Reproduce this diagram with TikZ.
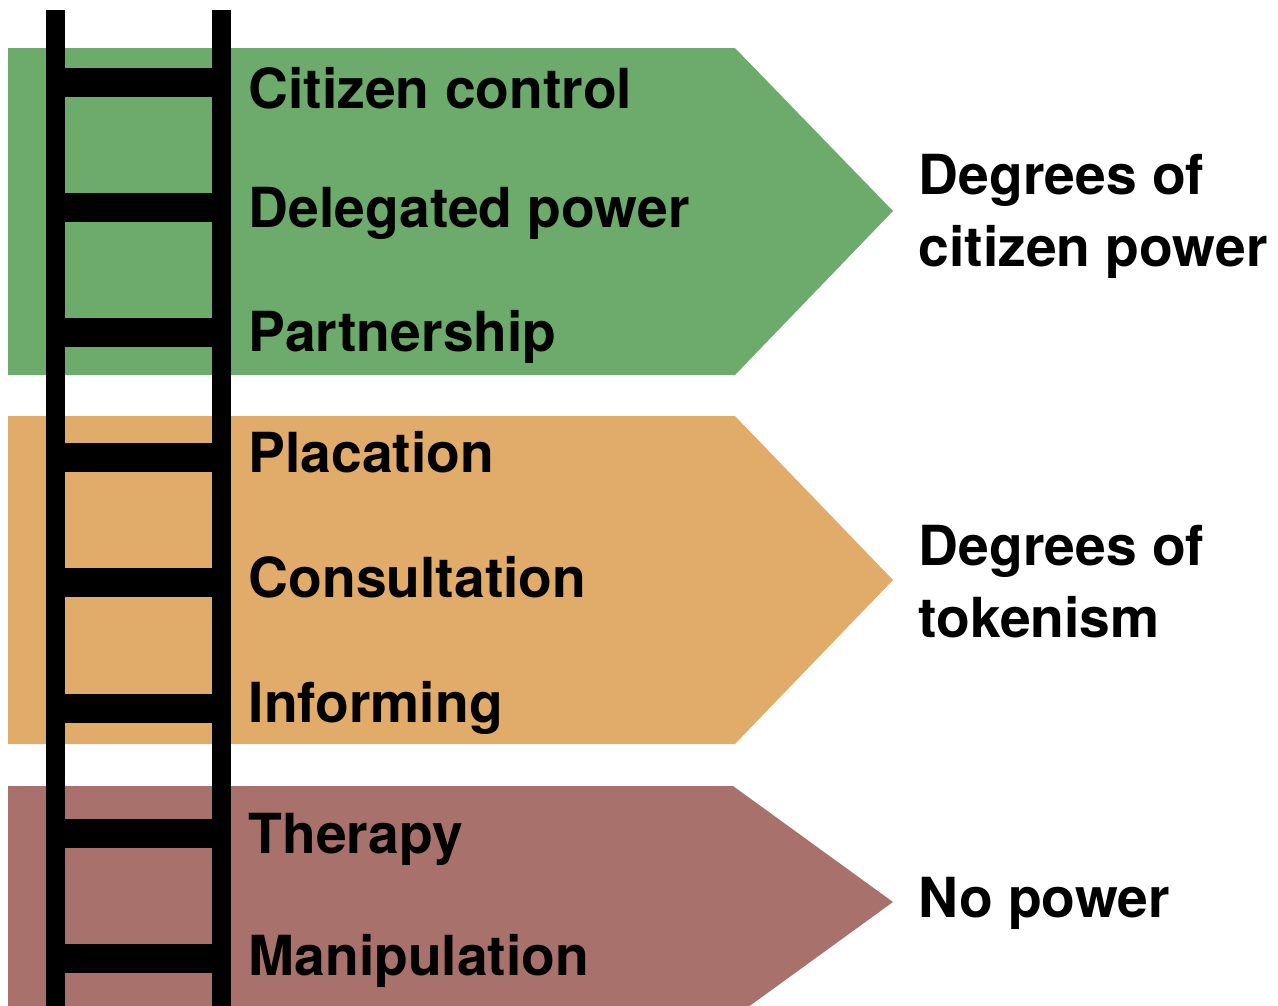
\documentclass[tikz,border=0pt]{standalone}
\usepackage{fontspec}
\setmainfont{TeX Gyre Heros}
\definecolor{powergreen}{RGB}{109,171,108}
\definecolor{tokenorange}{RGB}{225,172,106}
\definecolor{nopowerred}{RGB}{168,113,108}

\begin{document}
\begin{tikzpicture}[x=0.01cm,y=-0.01cm,
  rung/.style={font=\fontsize{15.7}{20.2}\selectfont\bfseries,anchor=base west,inner sep=0},
  degree/.style={rung,align=left}]
  \clip (0,0) rectangle (1278,1005);
  % the three arrows
  \fill[powergreen] (8,48) -- (735,48) -- (893,211) -- (735,375) -- (8,375) -- cycle;
  \fill[tokenorange] (8,416) -- (735,416) -- (893,580) -- (735,744) -- (8,744) -- cycle;
  \fill[nopowerred] (8,786) -- (733,786) -- (893,902) -- (733,1018) -- (8,1018) -- cycle;
  % ladder
  \fill (46,10) rectangle (65,1010);
  \fill (212,10) rectangle (231,1010);
  \foreach \i in {0,...,7}
    \fill (46,68+125.1*\i) rectangle (231,97+125.1*\i);
  % steps
  \foreach \name/\y/\txt in {control/108/Citizen control,delegated/227/Delegated power,
      partnership/351/Partnership,placation/472/Placation,consultation/597/Consultation,
      informing/722/Informing,therapy/853/Therapy,manipulation/975/Manipulation}
    \node[rung] (\name) at (248,\y) {\txt};
  % degrees (base = last line)
  \node[degree] (citizenpower) at (918,266) {Degrees of\\citizen power};
  \node[degree] (tokenism) at (918,637) {Degrees of\\tokenism};
  \node[degree] (nopower) at (918,917) {No power};
\end{tikzpicture}
\end{document}
